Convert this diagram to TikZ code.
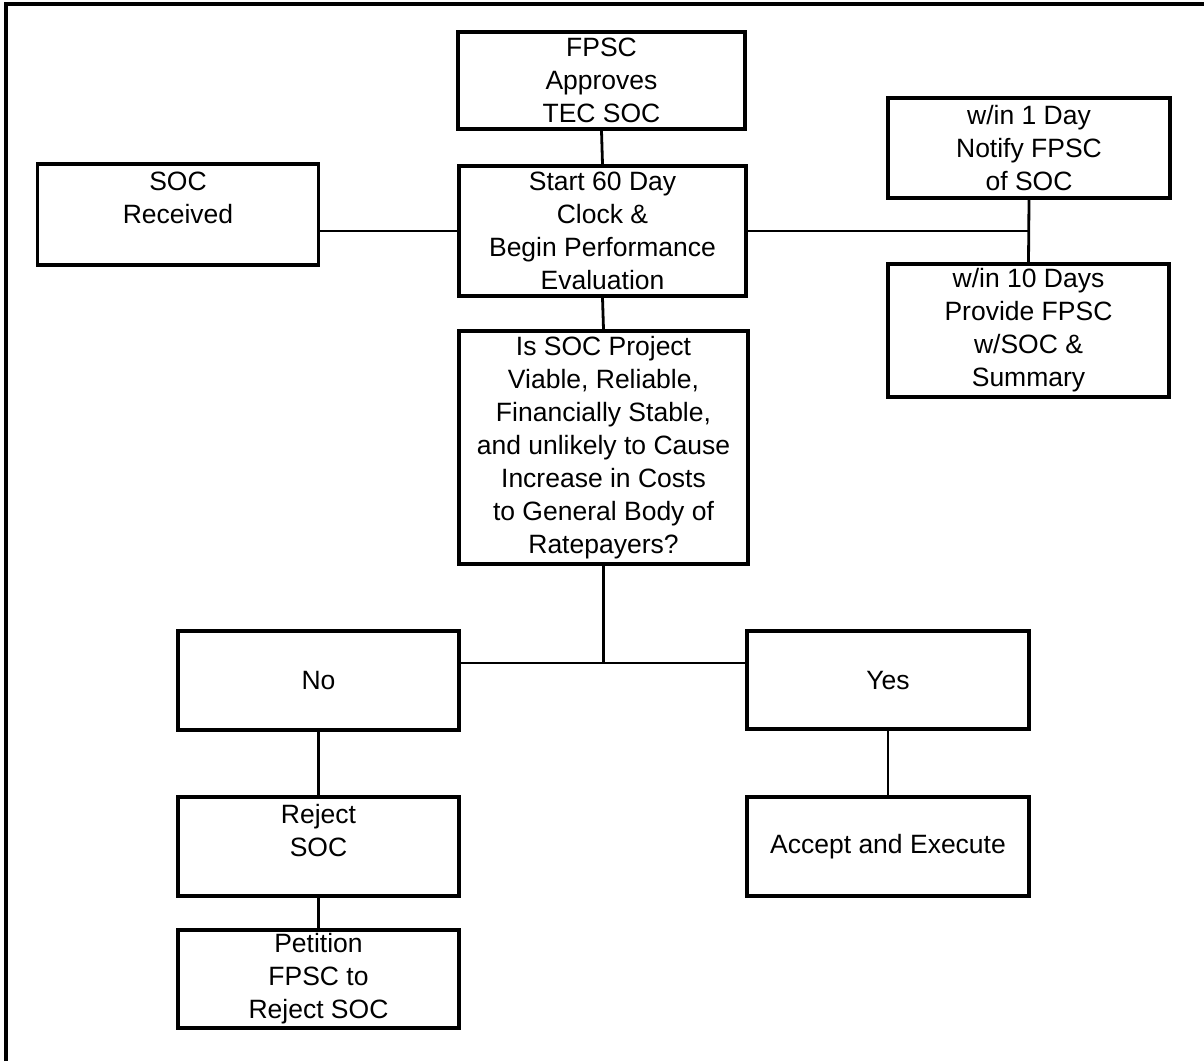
\documentclass[tikz,border=0pt]{standalone}
\usepackage{fontspec}
\setmainfont{Liberation Sans}
\usepackage{tikz}
\tikzset{%
  stagebox/.style={draw, rectangle, line width=1.7pt, align=center, inner sep=0pt,
    font=\fontsize{13.25}{16.5}\selectfont},
  wire/.style={line width=1.4pt}
}

\begin{document}
\begin{tikzpicture}[x=0.5pt,y=-0.5pt]
\useasboundingbox (0,0) rectangle (1204,1061);
\draw[line width=1.6pt] (6,1061) -- (6,4) -- (1204,4);
\node[stagebox, minimum width=143.5pt, minimum height=48.5pt] (fpsc) at (601.5,80.5) {FPSC\\Approves\\TEC SOC};
\node[stagebox, minimum width=143.5pt, minimum height=65pt] (start) at (602.5,231) {Start 60 Day\\Clock \&\\Begin Performance\\Evaluation};
\node[stagebox, minimum width=140.5pt, minimum height=50.5pt] (soc) at (178,214.5) {SOC\\Received\\\mbox{}};
\node[stagebox, minimum width=141pt, minimum height=50pt] (notify) at (1029,148) {w/in 1 Day\\Notify FPSC\\of SOC};
\node[stagebox, minimum width=140.5pt, minimum height=66.5pt] (provide) at (1028.5,330.5) {w/in 10 Days\\Provide FPSC\\w/SOC \&\\Summary};
\node[stagebox, minimum width=144.5pt, minimum height=116.5pt] (question) at (603.5,447.5) {Is SOC Project\\Viable, Reliable,\\Financially Stable,\\and unlikely to Cause\\Increase in Costs\\to General Body of\\Ratepayers?};
\node[stagebox, minimum width=140.5pt, minimum height=49.5pt] (no) at (318.5,680.5) {No};
\node[stagebox, minimum width=141pt, minimum height=49pt] (yes) at (888,680) {Yes};
\node[stagebox, minimum width=140.5pt, minimum height=49.5pt] (reject) at (318.5,846.5) {Reject\\SOC\\\mbox{}};
\node[stagebox, minimum width=140.5pt, minimum height=49pt] (petition) at (318.5,979) {Petition\\FPSC to\\Reject SOC};
\node[stagebox, minimum width=141pt, minimum height=49.5pt] (accept) at (888,846.5) {Accept and Execute};
\coordinate (jR) at (notify.south |- start.east);
\coordinate (jQ) at (603.5,663);
\draw[wire] (fpsc.south) -- (start.north);
\draw[wire] (start.west) -- (start.west -| soc.east);
\draw[wire] (start.east) -- (jR);
\draw[wire] (notify.south) -- (provide.north);
\draw[wire] (start.south) -- (question.north);
\draw[wire] (question.south) -- (jQ);
\draw[wire] (no.east |- jQ) -- (yes.west |- jQ);
\draw[wire] (no.south) -- (reject.north);
\draw[wire] (reject.south) -- (petition.north);
\draw[wire] (yes.south) -- (accept.north);
\end{tikzpicture}
\end{document}
